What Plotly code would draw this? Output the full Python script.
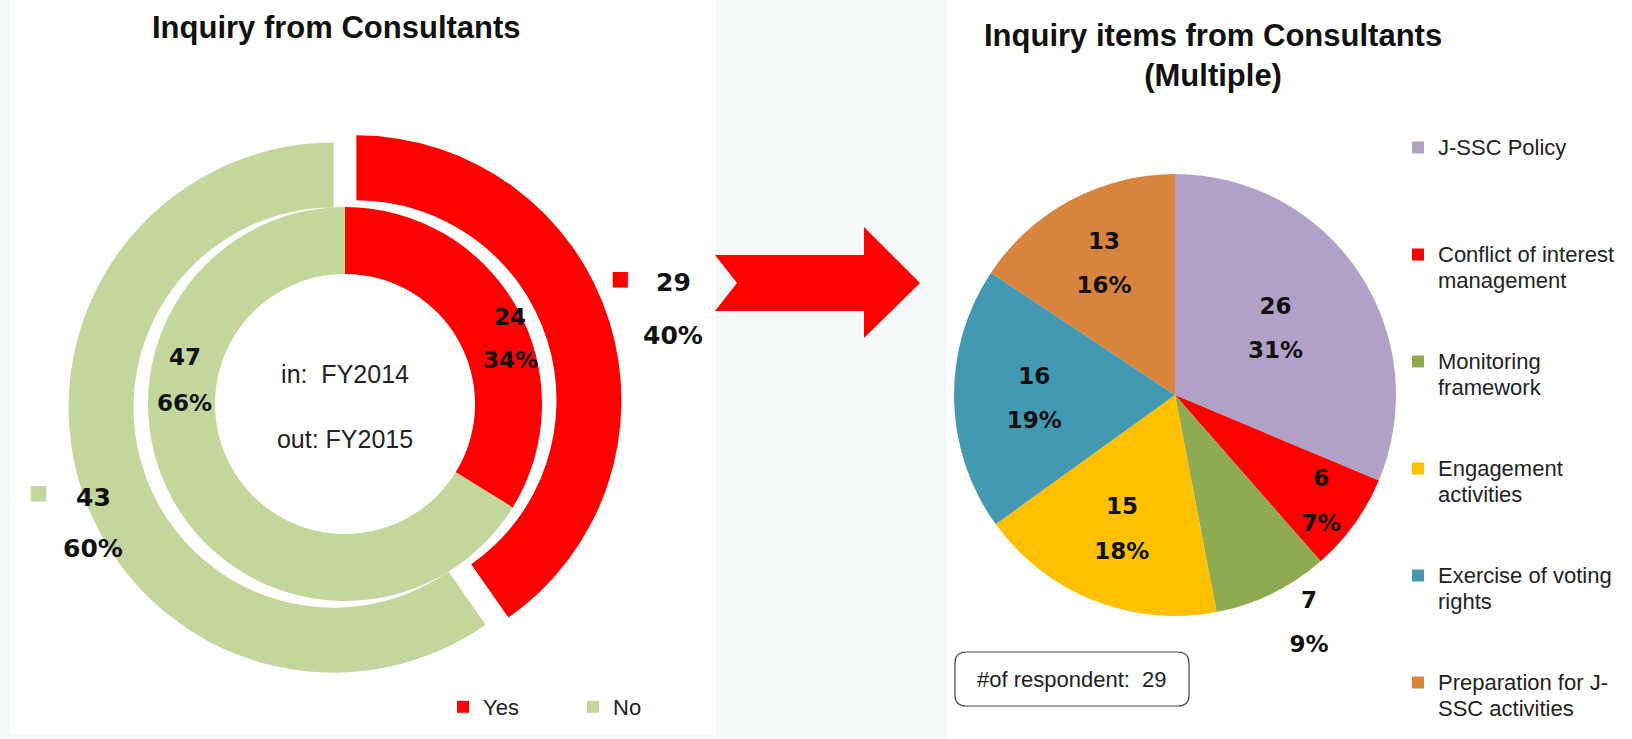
import plotly.graph_objects as go

W, H = 1632, 739

# left donut: inner ring = FY2014 ("in"), outer ring = FY2015 ("out")
answers = ["Yes", "No"]
answer_colors = ["#ff0000", "#c3d69b"]
fy2014_counts = [24, 47]
fy2015_counts = [29, 43]

# right pie: inquiry items (multiple answers)
items = ["J-SSC Policy", "Conflict of interest<br>management", "Monitoring<br>framework",
         "Engagement<br>activities", "Exercise of voting<br>rights", "Preparation for J-<br>SSC activities"]
item_counts = [26, 6, 7, 15, 16, 13]
item_pct = ["31%", "7%", "9%", "18%", "19%", "16%"]
item_colors = ["#b2a1c7", "#ff0000", "#8faa50", "#ffc000", "#4399b2", "#d8843d"]
respondents = 29


def fx(x):
    return x / W


def fy(y):
    return 1 - y / H


def box(x0, y0, x1, y1):
    return dict(x=[fx(x0), fx(x1)], y=[fy(y1), fy(y0)])


def pct(values):
    total = sum(values)
    return [f"{round(v / total * 100)}%" for v in values]


# legend labels: slightly larger glyphs than the line pitch, and padded so
# every entry takes the same height (last one stays short)
def pad(label, lines=4, last=False):
    parts = [f"<span style='font-size:22px'>{p}</span>" for p in label.split("<br>")]
    if not last:
        parts += ["\u00a0"] * (lines - len(parts))
    return "<br>".join(parts)


legend_labels = [pad(s) for s in items[:-1]] + [pad(items[-1], last=True)]

BOLD = "DejaVu Sans"
ARIAL = "Liberation Sans, Arial"

fig = go.Figure()

# inner ring (FY2014)
fig.add_trace(go.Pie(
    labels=answers, values=fy2014_counts, hole=0.66, sort=False, direction="clockwise",
    marker=dict(colors=answer_colors, line=dict(width=0)),
    domain=box(148, 207, 542, 601), textinfo="none",
    title=dict(text="in:\u00a0 FY2014<br><br>out: FY2015", position="middle center",
               font=dict(family=ARIAL, size=25, color="#222")),
    legend="legend", showlegend=True, hoverinfo="label+value+percent",
))

# outer ring (FY2015), slices exploded
fig.add_trace(go.Pie(
    labels=answers, values=fy2015_counts, hole=0.755, sort=False, direction="clockwise",
    pull=[0.045, 0.045],
    marker=dict(colors=answer_colors, line=dict(width=0)),
    domain=box(68, 127, 622, 681), textinfo="none",
    legend="legend", showlegend=False, hoverinfo="label+value+percent",
))

# right pie
fig.add_trace(go.Pie(
    labels=legend_labels, values=item_counts, text=item_pct,
    sort=False, direction="clockwise",
    marker=dict(colors=item_colors, line=dict(width=0)),
    domain=box(954, 174, 1396, 616),
    texttemplate="<span style='font-size:23px'>%{value}</span><br><br>"
                 "<span style='font-size:23px'>%{text}</span>",
    textposition=["inside", "inside", "outside", "inside", "inside", "inside"],
    insidetextorientation="horizontal",
    textfont=dict(family=BOLD, size=17, color="#111", weight="bold"),
    legend="legend2", hoverinfo="value+text",
))

shapes = [
    # panel backgrounds
    dict(type="rect", xref="paper", yref="paper", x0=fx(10), x1=fx(716), y0=fy(735), y1=fy(0),
         fillcolor="white", line=dict(width=0), layer="below"),
    dict(type="rect", xref="paper", yref="paper", x0=fx(947), x1=fx(1632), y0=fy(739), y1=fy(0),
         fillcolor="white", line=dict(width=0), layer="below"),
]

# red arrow between the two charts
arrow = [(715, 255), (864, 255), (864, 227), (920, 283), (864, 338), (864, 311), (715, 311), (737, 283)]
path = "M" + " L".join(f"{fx(x):.5f},{fy(y):.5f}" for x, y in arrow) + " Z"
shapes.append(dict(type="path", xref="paper", yref="paper", path=path,
                   fillcolor="#ff0000", line=dict(width=0)))

# rounded box for respondent count
x0, y0, x1, y1, r = 955, 652, 1189, 706, 11
pts = (f"M{fx(x0 + r)},{fy(y0)} L{fx(x1 - r)},{fy(y0)} Q{fx(x1)},{fy(y0)} {fx(x1)},{fy(y0 + r)} "
       f"L{fx(x1)},{fy(y1 - r)} Q{fx(x1)},{fy(y1)} {fx(x1 - r)},{fy(y1)} "
       f"L{fx(x0 + r)},{fy(y1)} Q{fx(x0)},{fy(y1)} {fx(x0)},{fy(y1 - r)} "
       f"L{fx(x0)},{fy(y0 + r)} Q{fx(x0)},{fy(y0)} {fx(x0 + r)},{fy(y0)} Z")
shapes.append(dict(type="path", xref="paper", yref="paper", path=pts,
                   fillcolor="white", line=dict(color="#444", width=1.2)))


def note(text, x, y, size, family=ARIAL, color="#111", bold=False):
    return dict(text=f"<b>{text}</b>" if bold else text, x=fx(x), y=fy(y), xref="paper", yref="paper",
                xanchor="center", yanchor="middle", showarrow=False,
                font=dict(family=family, size=size, color=color))


annotations = [
    note("Inquiry from Consultants", 336, 28, 31, bold=True),
    note("Inquiry items from Consultants<br>(Multiple)", 1213, 56, 31, bold=True),
    note(f"#of respondent:\u00a0 {respondents}", 1072, 679, 22, color="#222"),
]

# data labels of the donut (Excel placed them by hand)
out_pct = pct(fy2015_counts)
in_pct = pct(fy2014_counts)
annotations += [
    note("■", 620, 278, 20, family=BOLD, color=answer_colors[0]),
    note(str(fy2015_counts[0]), 673, 283, 25, family=BOLD, bold=True),
    note(out_pct[0], 673, 335, 25, family=BOLD, bold=True),
    note("■", 38, 492, 20, family=BOLD, color=answer_colors[1]),
    note(str(fy2015_counts[1]), 93, 497, 25, family=BOLD, bold=True),
    note(out_pct[1], 93, 548, 25, family=BOLD, bold=True),
    note(str(fy2014_counts[0]), 510, 317, 23, family=BOLD, bold=True),
    note(in_pct[0], 510, 360, 23, family=BOLD, bold=True),
    note(str(fy2014_counts[1]), 185, 357, 23, family=BOLD, bold=True),
    note(in_pct[1], 184, 403, 23, family=BOLD, bold=True),
]

fig.update_layout(
    width=W, height=H,
    margin=dict(l=0, r=0, t=0, b=0, pad=0, autoexpand=False),
    paper_bgcolor="#f5f8f9",
    plot_bgcolor="#f5f8f9",
    shapes=shapes,
    annotations=annotations,
    legend=dict(orientation="h", x=fx(443), y=fy(707), xanchor="left", yanchor="middle",
                font=dict(family=ARIAL, size=22, color="#222"), bgcolor="rgba(0,0,0,0)",
                entrywidth=85, entrywidthmode="pixels"),
    legend2=dict(orientation="v", x=fx(1398), y=fy(128), xanchor="left", yanchor="top",
                 font=dict(family=ARIAL, size=20, color="#222"), bgcolor="rgba(0,0,0,0)",
                 valign="top", traceorder="normal"),
)

fig.write_html("out.html", config={"displayModeBar": False},
               post_script="document.body.style.margin='0';document.body.style.overflow='hidden';")
